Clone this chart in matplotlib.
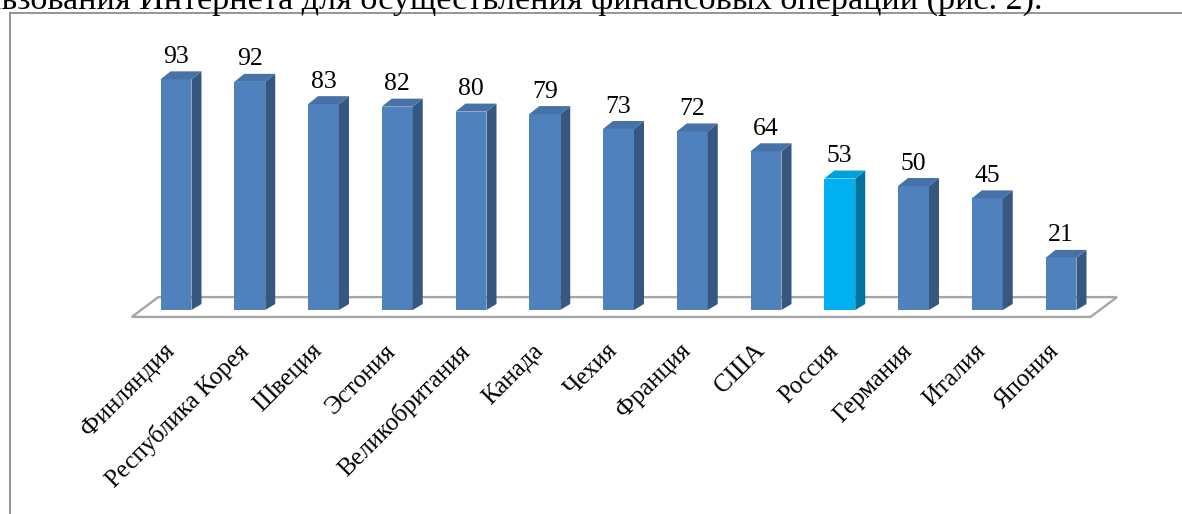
import matplotlib
matplotlib.use("Agg")
import matplotlib.pyplot as plt
from matplotlib.patches import Polygon
from matplotlib.lines import Line2D

# данные с рисунка
countries = ["Финляндия", "Республика Корея", "Швеция", "Эстония", "Великобритания",
             "Канада", "Чехия", "Франция", "США", "Россия", "Германия", "Италия", "Япония"]
values = [93, 92, 83, 82, 80, 79, 73, 72, 64, 53, 50, 45, 21]
highlight = "Россия"
caption = "использования Интернета для осуществления финансовых операций (рис. 2)."
caption_visible = "ьзования Интернета для осуществления финансовых операций (рис. 2)."

W, H = 1182, 514
plt.rcParams['font.family'] = ['Liberation Serif', 'DejaVu Serif']

fig = plt.figure(figsize=(W / 100, H / 100), dpi=100)
renderer = fig.canvas.get_renderer()

# рамка диаграммы (обрезана справа и снизу)
frame_c = "#8c8c8c"
fig.add_artist(Line2D([10 / W, 10 / W], [0, 1 - 13 / H], color=frame_c, lw=1.3))
fig.add_artist(Line2D([10 / W, 1], [1 - 13 / H, 1 - 13 / H], color=frame_c, lw=1.3))

# обрезанная строка текста сверху: размер шрифта подбираем по видимой части
probe = fig.text(0, 0, caption_visible, fontsize=10)
w10 = probe.get_window_extent(renderer).width
probe.remove()
cap_end = 1042
fig.text(cap_end / W, 1 - 8.5 / H, caption, ha="right", va="baseline",
         fontsize=10 * cap_end / w10, color="black")

# оси: пиксели -> единицы данных
x_first, step = 176, 73.75      # центр первого столбца и шаг, px
base_px, per_unit = 310, 2.48   # базовая линия и px на единицу
xlim = (-0.6, 12.6)
ylim = (-10, 105)
left = x_first + xlim[0] * step
right = x_first + xlim[1] * step
bottom = base_px - ylim[0] * per_unit
top = base_px - ylim[1] * per_unit
ax = fig.add_axes([left / W, 1 - bottom / H, (right - left) / W, (bottom - top) / H])
ax.set_xlim(*xlim)
ax.set_ylim(*ylim)
ax.axis("off")

n = len(countries)
xs = list(range(n))
bw = 0.42
ddx = 10 / step       # глубина столбца по x
ddy = 8 / per_unit    # глубина столбца по y

# пол
fdx = 0.36
f_front, f_back = -2.8, 5.2
floor = Polygon([(-0.6, f_front), (n - 1 + 0.4, f_front),
                 (n - 1 + 0.4 + fdx, f_back), (-0.6 + fdx, f_back)],
                closed=True, facecolor="white", edgecolor="#a6a6a6", lw=1.7, zorder=1,
                clip_on=False)
ax.add_patch(floor)

for x, v, name in zip(xs, values, countries):
    if name == highlight:
        c_front, c_side, c_top = "#00b0f0", "#00739e", "#00a0dc"
    else:
        c_front, c_side, c_top = "#4f81bd", "#36577f", "#4672a8"
    x0, x1 = x - bw / 2, x + bw / 2
    ax.bar(x, v, width=bw, color=c_front, zorder=3, clip_on=False)
    side = Polygon([(x1, 0), (x1 + ddx, ddy * 0.75), (x1 + ddx, v + ddy), (x1, v)],
                   closed=True, facecolor=c_side, edgecolor="none", zorder=3, clip_on=False)
    topf = Polygon([(x0, v), (x1, v), (x1 + ddx, v + ddy), (x0 + ddx, v + ddy)],
                   closed=True, facecolor=c_top, edgecolor="none", zorder=3, clip_on=False)
    ax.add_patch(side)
    ax.add_patch(topf)
    ax.text(x, v + ddy + 3.4, str(v), ha="center", va="baseline", fontsize=18.5,
            color="black", clip_on=False)

# подписи категорий
for x, name in zip(xs, countries):
    ax.text(x - 0.17, -12.0, name, rotation=45, ha="right", va="top",
            rotation_mode="anchor", fontsize=18, color="black", clip_on=False)

fig.savefig("out.png", dpi=100, facecolor="white")
